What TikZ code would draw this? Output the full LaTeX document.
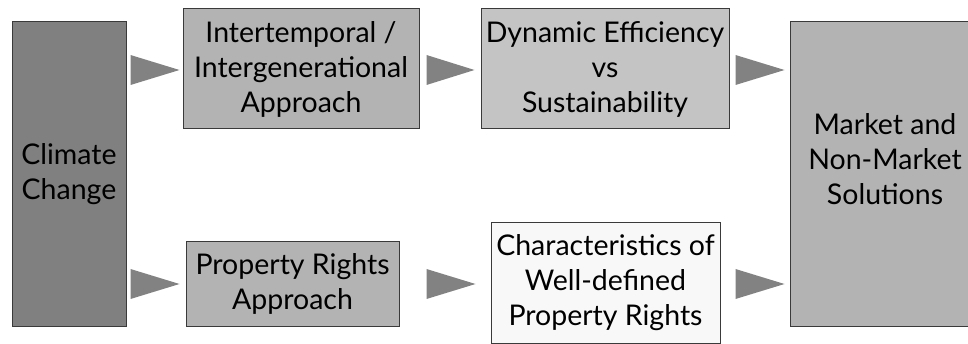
\documentclass[tikz,border=0pt]{standalone}
\usepackage{fontspec}
\setmainfont{Lato}
\usetikzlibrary{calc}
\definecolor{darkfill}{HTML}{808080}
\definecolor{midfill}{HTML}{B3B3B3}
\definecolor{lightfill}{HTML}{C4C4C4}
\definecolor{palefill}{HTML}{F8F8F8}
\definecolor{edge}{HTML}{3A3A3A}
\definecolor{arrowgray}{HTML}{828282}
\tikzset{
  boxtext/.style={align=center, inner sep=0pt,
    font=\fontsize{28.5}{35}\selectfont, text=black},
  box/.style={boxtext, draw=edge, line width=1pt},
  tri/.style={fill=arrowgray, draw=none},
}
\begin{document}
\begin{tikzpicture}[x=1pt,y=-1pt]
\useasboundingbox (0,0) rectangle (968,344);
\node[box, fill=darkfill, minimum width=114, minimum height=304] (cc) at (69,174) {Climate\\Change};
\node[box, fill=midfill, minimum width=236, minimum height=120] (inter) at (301,69) {Intertemporal /\\Intergenerational\\Approach};
\node[box, fill=lightfill, minimum width=248, minimum height=120] (dyn) at (605,69) {Dynamic Efficiency\\vs\\Sustainability};
\node[box, fill=midfill, minimum width=190, minimum height=304] (mkt) at (885,174) {};
\node[boxtext] (mkttext) at ($(mkt.center)+(0,-15)$) {Market and\\Non-Market\\Solutions};
\node[box, fill=midfill, minimum width=213, minimum height=84] (pra) at (292.5,284) {Property Rights\\Approach};
\node[box, fill=palefill, minimum width=229, minimum height=120] (chr) at (605.5,283) {Characteristics of\\Well-defined\\Property Rights};
% triangle connectors
\coordinate (t1) at ($(cc.east|-inter.center)+(4,1)$);
\fill[tri] ($(t1)+(0,-15)$) -- ($(inter.west|-t1)+(-3,0)$) -- ($(t1)+(0,15)$) -- cycle;
\coordinate (t2) at ($(inter.east|-inter.center)+(7,1)$);
\fill[tri] ($(t2)+(0,-15)$) -- ($(dyn.west|-t2)+(-6,0)$) -- ($(t2)+(0,15)$) -- cycle;
\coordinate (t3) at ($(dyn.east|-dyn.center)+(6,1)$);
\fill[tri] ($(t3)+(0,-15)$) -- ($(mkt.west|-t3)+(-5,0)$) -- ($(t3)+(0,15)$) -- cycle;
\coordinate (b1) at ($(cc.east|-pra.center)+(4,0)$);
\fill[tri] ($(b1)+(0,-15)$) -- ($(pra.west|-b1)+(-6,0)$) -- ($(b1)+(0,15)$) -- cycle;
\coordinate (b2) at ($(pra.east|-pra.center)+(27,0)$);
\fill[tri] ($(b2)+(0,-15)$) -- ($(chr.west|-b2)+(-15,0)$) -- ($(b2)+(0,15)$) -- cycle;
\coordinate (b3) at ($(chr.east|-pra.center)+(15,0)$);
\fill[tri] ($(b3)+(0,-15)$) -- ($(mkt.west|-b3)+(-5,0)$) -- ($(b3)+(0,15)$) -- cycle;
\end{tikzpicture}
\end{document}
